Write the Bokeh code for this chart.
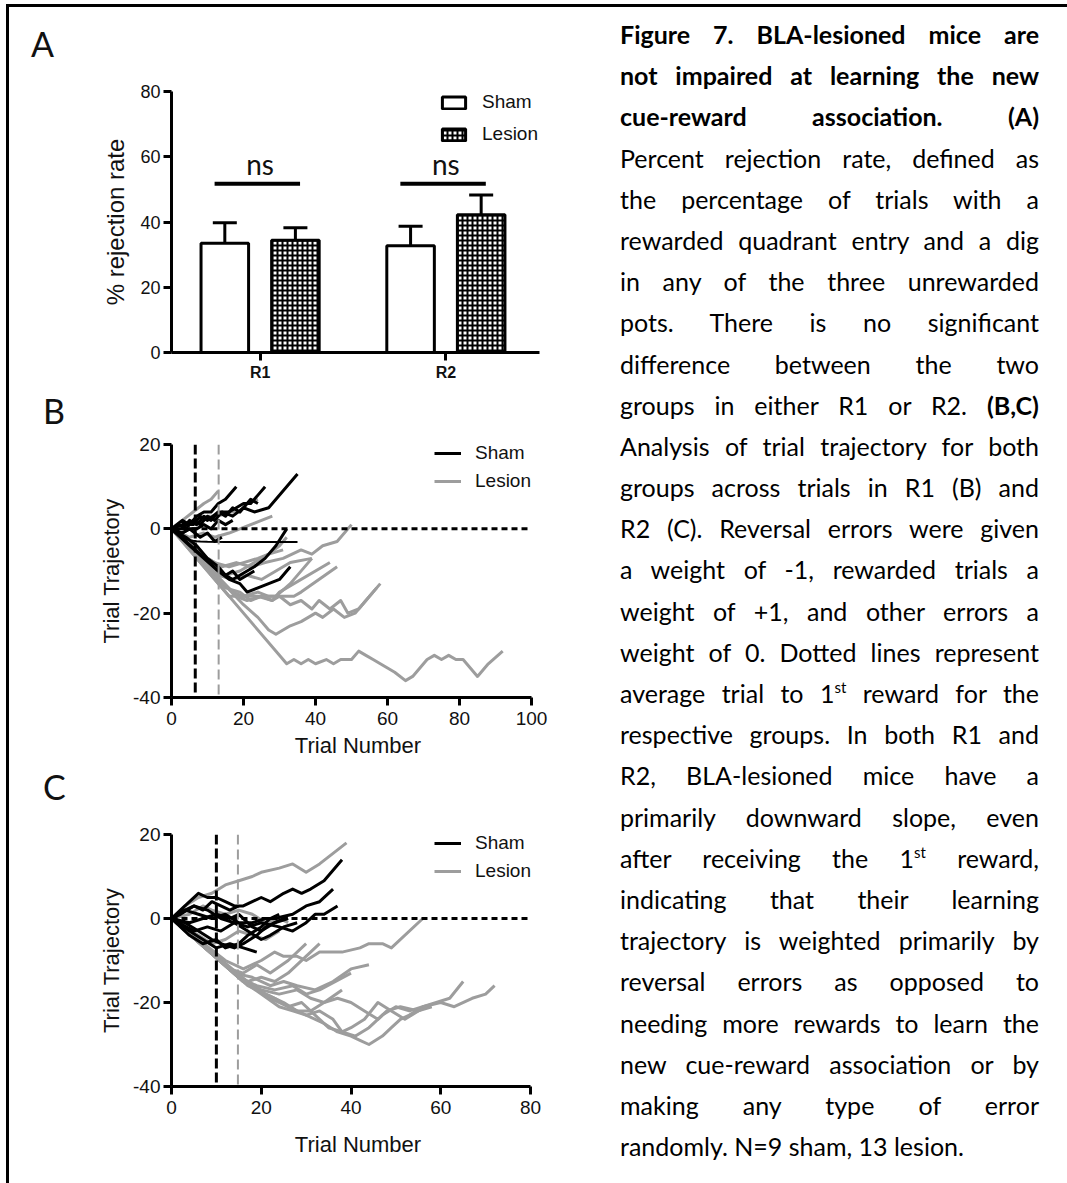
from bokeh.plotting import figure
from bokeh.models import (Range1d, FixedTicker, Span, Legend, LegendItem,
                          Whisker, ColumnDataSource, TeeHead, Div, Spacer)
from bokeh.layouts import row, column
from bokeh.embed import file_html
from bokeh.resources import INLINE
from bokeh.core.properties import value

AXIS_FONT = "Liberation Sans"
CAL_FONT = "Lato"
GRAY = "#9d9d9d"

# ---------------- Panel A data ----------------
groups = ["R1", "R2"]
sham_mean = [33.5, 32.7]
sham_sem = [6.3, 6.0]
lesion_mean = [34.4, 42.2]
lesion_sem = [3.8, 6.1]
ns_bar_y = [51.7, 51.7]
ns_label_y = [57.7, 57.7]
ns_labels = ["ns", "ns"]
a_yticks = [0, 20, 40, 60, 80]

# ---------------- Panel B data (R1) ----------------
b_xticks = [0, 20, 40, 60, 80, 100]
traj_yticks = [-40, -20, 0, 20]
b_first_reward_sham = 6.6
b_first_reward_lesion = 13.1
b_fit_x = [0, 1, 2, 3, 4, 5, 6, 7, 8, 10, 15, 20, 25, 30, 35]
b_fit_y = [0, -0.8, -1.4, -2.0, -2.4, -2.7, -2.85, -2.95, -3.0, -3.05, -3.1, -3.1, -3.1, -3.1, -3.1]

b_sham = [
    [(0, 0), (2, 1), (4, 0), (6, 2), (8, 1), (10, 3), (12, 2), (14, 4), (17, 3), (20, 5), (23, 4), (27, 5), (35, 13)],
    [(0, 0), (3, 2), (5, 1), (7, 3), (9, 4), (11, 4), (13, 6), (15, 7), (18, 10)],
    [(0, 0), (3, 1), (6, 1), (8, 3), (10, 2), (13, 4), (16, 4), (18, 5), (20, 6), (22, 6), (24, 8), (26, 10)],
    [(0, 0), (3, -1), (5, 0), (7, 0), (9, 1), (11, 0), (13, 2), (15, 1), (17, 2)],
    [(0, 0), (4, -3), (8, -6), (13, -10), (15, -11), (17, -12), (19, -11), (21, -10), (23, -9), (26, -7), (29, -4), (32, 0)],
    [(0, 0), (5, -4), (9, -7), (13, -10), (16, -12), (19, -13), (21, -15), (24, -14), (27, -13), (30, -12), (33, -9)],
    [(0, 0), (3, 0), (5, 2), (7, 1), (9, 3), (11, 2), (13, 4), (15, 3), (17, 5), (19, 4), (22, 7), (24, 6)],
    [(0, 0), (3, -1), (5, 0), (8, -2), (10, -1), (12, -3), (14, -2)],
    [(0, 0), (4, -2), (7, -4), (10, -7), (13, -9), (15, -11), (17, -10), (19, -12), (21, -11), (23, -10)],
]
b_lesion = [
    [(0, 0), (32, -32), (34, -31), (36, -32), (38, -31), (40, -32), (43, -31), (45, -32), (47, -31), (50, -31),
     (52, -29), (54, -30), (56, -31), (58, -32), (60, -33), (62, -34), (65, -36), (67, -35), (71, -31), (73, -30),
     (75, -31), (77, -30), (79, -31), (81, -31), (83, -33), (85, -35), (88, -32), (92, -29)],
    [(0, 0), (20, -18), (24, -21), (27, -24), (29, -25), (31, -24), (33, -23), (36, -22), (38, -21), (40, -20),
     (42, -21), (45, -19), (48, -21), (51, -20), (54, -17), (58, -13)],
    [(0, 0), (17, -15), (20, -16), (24, -16), (28, -17), (30, -16), (33, -18), (36, -17), (39, -19), (41, -17),
     (44, -19), (47, -17), (49, -20), (52, -19), (54, -17), (57, -14)],
    [(0, 0), (16, -16), (20, -16), (24, -15), (27, -16), (30, -16), (34, -16), (36, -15), (46, -9)],
    [(0, 0), (15, -14), (19, -15), (22, -17), (25, -16), (28, -17), (30, -15), (44, -8)],
    [(0, 0), (10, -7), (14, -9), (18, -8), (22, -9), (26, -8), (31, -7), (36, -5), (39, -6), (42, -4), (46, -3), (50, 1)],
    [(0, 0), (13, -11), (17, -12), (21, -11), (25, -12), (29, -10), (33, -8), (39, -7)],
    [(0, 0), (11, -9), (15, -11), (19, -10), (23, -8), (27, -6), (30, -4), (32, -2)],
    [(0, 0), (3, 2), (6, 4), (9, 6), (11, 7), (13, 9)],
    [(0, 0), (4, 1), (7, 1), (10, 3), (13, 3), (16, 4), (19, 4), (21, 6), (24, 7)],
    [(0, 0), (5, -2), (9, -1), (12, -2), (16, -1), (19, 0), (22, 1), (25, 2), (28, 3)],
    [(0, 0), (8, -6), (12, -8), (16, -9), (20, -8), (24, -7), (27, -6), (31, -5)],
    [(0, 0), (18, -16), (21, -17), (25, -16), (29, -16), (33, -13), (39, -7)],
]

# ---------------- Panel C data (R2) ----------------
c_xticks = [0, 20, 40, 60, 80]
c_first_reward_sham = 10.0
c_first_reward_lesion = 14.8

c_sham = [
    [(0, 0), (3, 3), (6, 6), (8, 5), (10, 5), (12, 4), (14, 3), (16, 3), (18, 4), (20, 5), (22, 4), (25, 6),
     (27, 7), (29, 6), (31, 7), (34, 9), (38, 14)],
    [(0, 0), (3, 2), (6, 1), (9, 0), (12, 1), (15, -1), (18, -1), (21, 0), (23, 0), (27, 1), (30, 3), (33, 4), (36, 7)],
    [(0, 0), (5, -3), (8, -2), (11, -3), (14, -1), (17, -2), (20, -1), (24, -2), (27, -3), (30, -1), (32, 1), (34, 1), (37, 3)],
    [(0, 0), (4, -3), (7, -5), (10, -7), (13, -6), (16, -7), (19, -8)],
    [(0, 0), (3, 2), (5, 3), (7, 2), (9, 4), (11, 3), (13, 2), (15, 3)],
    [(0, 0), (3, -1), (6, -3), (9, -5), (11, -6), (14, -7), (16, -6), (19, -4), (21, -2), (23, -1), (25, 0)],
    [(0, 0), (4, -1), (7, 0), (10, 1), (13, 0), (15, 1), (18, -2), (20, -3), (23, -1), (26, 0)],
    [(0, 0), (4, -4), (7, -6), (10, -5), (12, -7), (15, -6), (17, -4), (20, -2), (22, 0), (24, 1)],
    [(0, 0), (2, 1), (5, 3), (8, 2), (11, 0), (14, -1), (17, -3), (20, -5), (22, -4), (25, -2), (28, -1)],
]
c_lesion = [
    [(0, 0), (3, 3), (6, 5), (9, 6), (12, 8), (15, 9), (18, 10), (20, 11), (24, 12), (27, 13), (30, 11), (33, 13), (39, 18)],
    [(0, 0), (12, -10), (16, -12), (20, -10), (23, -8), (25, -9), (28, -9), (30, -10), (33, -8), (38, -8), (42, -7),
     (44, -6), (47, -6), (49, -7), (56, 0)],
    [(0, 0), (14, -13), (18, -14), (22, -16), (25, -15), (28, -16), (32, -17), (36, -15), (40, -12), (44, -11)],
    [(0, 0), (15, -14), (19, -16), (23, -17), (27, -16), (30, -18), (33, -17), (40, -13)],
    [(0, 0), (16, -15), (20, -17), (24, -18), (28, -17), (31, -19), (34, -20), (38, -17)],
    [(0, 0), (18, -16), (22, -19), (26, -21), (30, -23), (34, -25), (37, -27), (40, -28), (42, -29), (44, -30),
     (47, -28), (49, -26), (51, -24), (53, -23), (56, -21), (59, -20), (62, -19), (65, -15)],
    [(0, 0), (16, -15), (20, -18), (24, -21), (27, -22), (30, -23), (33, -22), (36, -24), (38, -27), (41, -28),
     (44, -26), (47, -23), (50, -21), (53, -22), (56, -21), (60, -20), (63, -21), (67, -19), (70, -18), (72, -16)],
    [(0, 0), (17, -16), (21, -18), (25, -20), (28, -22), (31, -22), (34, -20), (37, -19), (40, -20), (43, -22),
     (46, -24), (48, -22), (51, -21), (55, -22), (58, -21)],
    [(0, 0), (15, -14), (19, -17), (23, -19), (26, -21), (29, -20), (32, -23), (35, -26), (38, -27), (40, -26),
     (43, -24), (46, -20), (49, -22), (52, -24), (55, -22), (57, -21)],
    [(0, 0), (4, 1), (7, 3), (9, 2), (12, 1), (15, 2), (18, 1), (21, -1), (24, 0), (26, -1)],
    [(0, 0), (6, -4), (9, -6), (12, -5), (15, -3), (18, -4), (21, -5), (24, -3)],
    [(0, 0), (13, -12), (16, -13), (19, -11), (22, -13), (26, -10), (30, -6)],
    [(0, 0), (14, -13), (17, -15), (20, -14), (23, -15), (26, -13), (33, -6)],
]

PANEL_LETTERS = ["A", "B", "C"]

CAPTION_LINES = [
    "<b>Figure 7. BLA-lesioned mice are</b>",
    "<b>not impaired at learning the new</b>",
    "<b>cue-reward association. (A)</b>",
    "Percent rejection rate, defined as",
    "the percentage of trials with a",
    "rewarded quadrant entry and a dig",
    "in any of the three unrewarded",
    "pots. There is no significant",
    "difference between the two",
    "groups in either R1 or R2. <b>(B,C)</b>",
    "Analysis of trial trajectory for both",
    "groups across trials in R1 (B) and",
    "R2 (C). Reversal errors were given",
    "a weight of -1, rewarded trials a",
    "weight of +1, and other errors a",
    "weight of 0. Dotted lines represent",
    "average trial to 1<sup>st</sup> reward for the",
    "respective groups. In both R1 and",
    "R2, BLA-lesioned mice have a",
    "primarily downward slope, even",
    "after receiving the 1<sup>st</sup> reward,",
    "indicating that their learning",
    "trajectory is weighted primarily by",
    "reversal errors as opposed to",
    "needing more rewards to learn the",
    "new cue-reward association or by",
    "making any type of error",
    "randomly. N=9 sham, 13 lesion.",
]

STRIP_W = 60            # width of the panel-letter strip left of the plots
PLOT_W = 551 - STRIP_W
MB_LEFT = 162 - STRIP_W
FRAME_LEFT = 171        # page x of every plot frame's left edge
COL_RIGHT = 560         # page x of the plot column's right edge
FRAME_RIGHT = 544       # page x of every plot frame's right edge (frames are aligned in the column)
LEG_PAD = 5


def style_axes(p, tick_size, label_size):
    for ax in (p.xaxis, p.yaxis):
        ax.axis_line_width = 3
        ax.major_tick_line_width = 3
        ax.major_tick_out = 8
        ax.major_tick_in = 0
        ax.minor_tick_line_color = None
        ax.major_label_text_font = AXIS_FONT
        ax.major_label_text_font_size = tick_size
        ax.major_label_text_color = "#111111"
        ax.axis_label_text_font = AXIS_FONT
        ax.axis_label_text_font_size = label_size
        ax.axis_label_text_font_style = "normal"
        ax.axis_label_text_color = "#111111"
        ax.major_label_standoff = 3
    p.xgrid.visible = False
    p.ygrid.visible = False
    p.outline_line_color = None


def extended_end(x0, x1, axis_right_px):
    """Range end so that x1 sits at axis_right_px while the frame runs on to FRAME_RIGHT."""
    per_px = (x1 - x0) / (axis_right_px - FRAME_LEFT)
    return x0 + per_px * (FRAME_RIGHT - FRAME_LEFT)


# ---------------- Figure A ----------------
a_x0, a_x1 = 0.523, 2.504
pa = figure(width=PLOT_W, height=393, x_range=Range1d(a_x0, extended_end(a_x0, a_x1, 539)),
            y_range=Range1d(0, 80),
            min_border_left=MB_LEFT, min_border_right=COL_RIGHT - FRAME_RIGHT, min_border_top=84,
            min_border_bottom=48, output_backend="svg", toolbar_location=None)
style_axes(pa, "18px", "24px")
pa.xaxis.bounds = (a_x0, a_x1)
gx = [i + 1 for i in range(len(groups))]
sham_x = [g - 0.19 for g in gx]
lesion_x = [g + 0.19 for g in gx]
r_sham_bar = pa.vbar(x=sham_x, top=sham_mean, width=0.256, bottom=0, fill_color="white",
                     line_color="black", line_width=3)
r_les_bar = pa.vbar(x=lesion_x, top=lesion_mean, width=0.256, bottom=0, fill_color="white",
                    line_color="black", line_width=3, hatch_pattern="+", hatch_scale=5,
                    hatch_weight=2, hatch_color="black")
err_src = ColumnDataSource(dict(
    x=sham_x + lesion_x,
    upper=[m + e for m, e in zip(sham_mean, sham_sem)] + [m + e for m, e in zip(lesion_mean, lesion_sem)],
    lower=[m - e for m, e in zip(sham_mean, sham_sem)] + [m - e for m, e in zip(lesion_mean, lesion_sem)],
))
pa.add_layout(Whisker(source=err_src, base="x", upper="upper", lower="lower", dimension="height",
                      line_width=3, line_color="black",
                      upper_head=TeeHead(size=24, line_width=3, line_color="black"),
                      lower_head=TeeHead(size=24, line_width=3, line_color="black")))
pa.segment(x0=[g - 0.245 for g in gx], x1=[g + 0.215 for g in gx], y0=ns_bar_y, y1=ns_bar_y,
           line_width=4, line_color="black")
pa.text(x=gx, y=ns_label_y, text=ns_labels, text_font=value(CAL_FONT), text_font_size="28px",
        text_align="center", text_baseline="middle", text_color="#111111")
pa.xaxis.ticker = FixedTicker(ticks=gx)
pa.xaxis.major_label_overrides = {g: name for g, name in zip(gx, groups)}
pa.xaxis.major_label_text_font_style = "bold"
pa.xaxis.major_label_text_font_size = "16px"
pa.yaxis.ticker = FixedTicker(ticks=a_yticks)
pa.yaxis.axis_label = "% rejection rate"
pa.yaxis.axis_label_standoff = 8
legA = Legend(items=[LegendItem(label="Sham", renderers=[r_sham_bar]),
                     LegendItem(label="Lesion", renderers=[r_les_bar])],
              location=(268, 207), margin=0, padding=LEG_PAD, spacing=10,
              glyph_width=29, glyph_height=15, label_standoff=14, label_text_font=AXIS_FONT,
              label_text_font_size="19px", label_text_color="#111111", border_line_color=None,
              background_fill_alpha=0)
pa.add_layout(legA)


def traj_figure(height, xticks, axis_right_px, mb_top, mb_bottom, title_standoff, legend_loc,
                sham, lesion, first_s, first_l, fit=None):
    x0, x1 = xticks[0], xticks[-1]
    p = figure(width=PLOT_W, height=height,
               x_range=Range1d(x0, extended_end(x0, x1, axis_right_px)),
               y_range=Range1d(-40, 20),
               min_border_left=MB_LEFT, min_border_right=COL_RIGHT - FRAME_RIGHT, min_border_top=mb_top,
               min_border_bottom=mb_bottom, output_backend="svg", toolbar_location=None)
    style_axes(p, "19px", "22px")
    p.xaxis.bounds = (x0, x1)
    r_l = p.multi_line(xs=[[pt[0] for pt in tr] for tr in lesion], ys=[[pt[1] for pt in tr] for tr in lesion],
                       line_color=GRAY, line_width=3, line_join="round")
    r_s = p.multi_line(xs=[[pt[0] for pt in tr] for tr in sham], ys=[[pt[1] for pt in tr] for tr in sham],
                       line_color="black", line_width=3, line_join="round")
    if fit is not None:
        p.line(fit[0], fit[1], line_color="black", line_width=2)
    p.line([x0, x1], [0, 0], line_color="black", line_width=3, line_dash="6 4")
    p.add_layout(Span(location=first_s, dimension="height", line_color="black", line_width=3, line_dash="10 4"))
    p.add_layout(Span(location=first_l, dimension="height", line_color=GRAY, line_width=2, line_dash="10 5"))
    p.xaxis.ticker = FixedTicker(ticks=xticks)
    p.yaxis.ticker = FixedTicker(ticks=traj_yticks)
    p.yaxis.major_label_overrides = {t: str(t) for t in traj_yticks}
    p.xaxis.major_label_standoff = 6
    p.xaxis.axis_label = "Trial Number"
    p.yaxis.axis_label = "Trial Trajectory"
    p.xaxis.axis_label_standoff = title_standoff
    p.yaxis.axis_label_standoff = 6
    leg = Legend(items=[LegendItem(label="Sham", renderers=[r_s]), LegendItem(label="Lesion", renderers=[r_l])],
                 location=legend_loc, margin=0, padding=LEG_PAD,
                 spacing=6, glyph_width=27, glyph_height=20, label_standoff=14, label_text_font=AXIS_FONT,
                 label_text_font_size="19px", label_text_color="#111111", border_line_color=None,
                 background_fill_alpha=0)
    p.add_layout(leg)
    return p


pb = traj_figure(370, b_xticks, 531, 44, 73, 5, (263, 205), b_sham, b_lesion, b_first_reward_sham,
                 b_first_reward_lesion, fit=(b_fit_x, b_fit_y))
pc = traj_figure(410, c_xticks, 530, 64, 94, 15, (263, 204), c_sham, c_lesion, c_first_reward_sham,
                 c_first_reward_lesion)

# ---------------- panel letters (HTML text) ----------------
letter_pos = [(22, 20), (34, 387), (34, 763)]
letters_html = (f'<div style="position:relative;width:{STRIP_W}px;height:1176px;'
                f'font-family:{CAL_FONT};font-size:34px;line-height:34px;color:#111;">'
                + "".join(f'<div style="position:absolute;left:{x}px;top:{y}px;">{t}</div>'
                          for t, (x, y) in zip(PANEL_LETTERS, letter_pos))
                + "</div>")
letters = Div(text=letters_html, width=STRIP_W, height=1176, margin=0)

# ---------------- caption ----------------
rows_html = []
for i, ln in enumerate(CAPTION_LINES):
    last = "left" if i == len(CAPTION_LINES) - 1 else "justify"
    rows_html.append(
        f'<div style="height:41.2px;line-height:41.2px;text-align:justify;text-align-last:{last};">{ln}</div>')
caption_html = ('<div style="box-sizing:border-box;width:507px;margin:0;padding:7px 28px 0 60px;'
                f'font-family:{CAL_FONT};font-size:25px;color:#000;">'
                + "".join(rows_html).replace("<sup>", '<sup style="font-size:0.6em;line-height:0;vertical-align:0.7em;">')
                + "</div>")
caption = Div(text=caption_html, width=507, height=1176, margin=0)

top_line = Div(text="", width=1061, height=3, margin=0, styles={"background-color": "black"})
left_line = Div(text="", width=3, height=1176, margin=0, styles={"background-color": "black"})
plots = column(pa, pb, pc, margin=0, spacing=0)
root = row(Spacer(width=6, height=1183, margin=0),
           column(Spacer(width=1061, height=4, margin=0), top_line,
                  row(left_line, letters, plots, caption, margin=0, spacing=0), margin=0, spacing=0),
           margin=0, spacing=0)

open("out.html", "w").write(file_html(root, INLINE))
